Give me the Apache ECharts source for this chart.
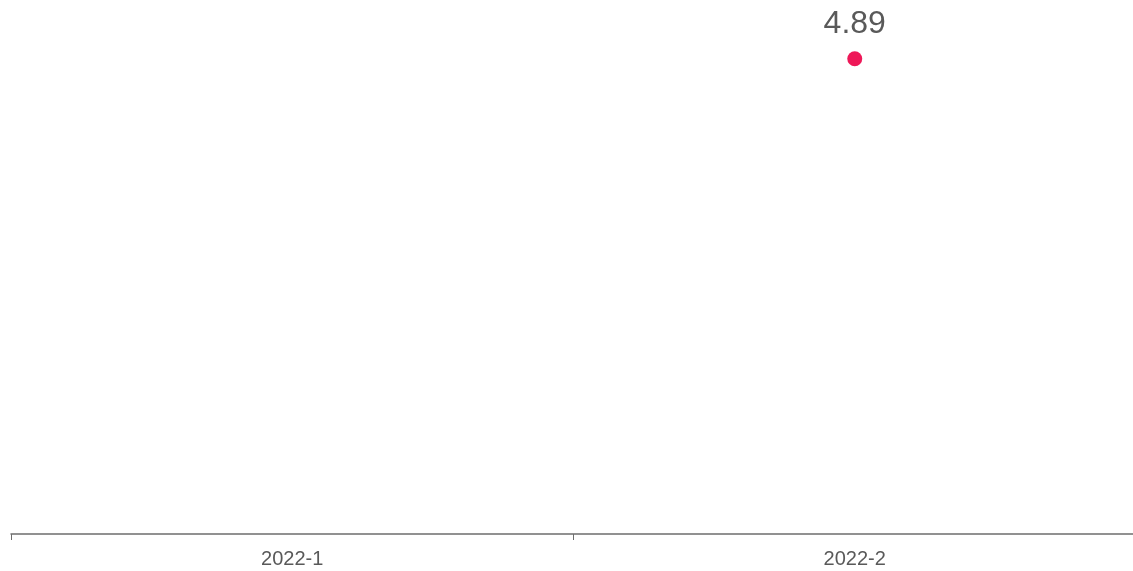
<!DOCTYPE html>
<html>
<head>
<meta charset="utf-8">
<script src="https://cdn.jsdelivr.net/npm/echarts@6/dist/echarts.min.js"></script>
<style>
html,body{margin:0;padding:0;background:#ffffff;}
#chart{width:1133px;height:571px;}
</style>
</head>
<body>
<div id="chart"></div>
<script>
var categories = ['2022-1', '2022-2'];
var values = [null, 4.89];

var chart = echarts.init(document.getElementById('chart'));
chart.setOption({
  animation: false,
  backgroundColor: '#ffffff',
  grid: { left: 11, width: 1125, top: 48, height: 486, containLabel: false, outerBoundsMode: 'none' },
  xAxis: {
    type: 'category',
    data: categories,
    axisLine: { show: true, lineStyle: { color: '#6e6e6e', width: 1.5 } },
    axisTick: { show: true, length: 6, lineStyle: { color: '#6e6e6e' } },
    axisLabel: { color: '#595959', fontSize: 20, fontFamily: 'Liberation Sans, Arial, sans-serif', margin: 15 }
  },
  yAxis: {
    type: 'value',
    min: 0,
    max: 5,
    show: false,
    splitLine: { show: false }
  },
  series: [{
    type: 'line',
    data: values,
    symbol: 'circle',
    symbolSize: 15,
    itemStyle: { color: '#ee1858' },
    lineStyle: { color: '#ee1858' },
    label: {
      show: true,
      position: 'top',
      distance: 11,
      color: '#595959',
      fontSize: 32,
      fontFamily: 'Liberation Sans, Arial, sans-serif'
    }
  }]
});
</script>
</body>
</html>
